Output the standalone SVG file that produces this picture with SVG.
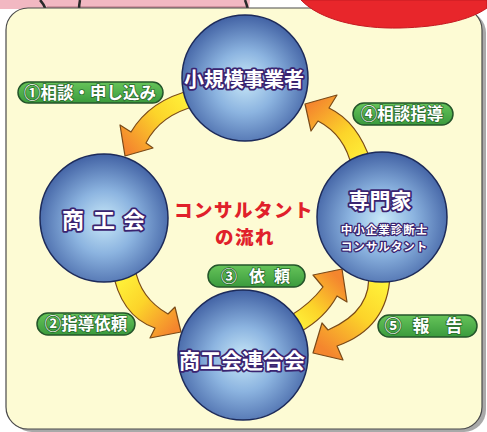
<svg xmlns="http://www.w3.org/2000/svg" width="487" height="432" viewBox="0 0 487 432">
<style>
.sph{fill:url(#sphere);stroke:#1c2a5a;stroke-width:1.5}
.nt{font-family:"Noto Sans CJK JP","Noto Sans",sans-serif;font-weight:700;fill:#ffffff;stroke:#3a2470;stroke-width:3.5;paint-order:stroke;stroke-linejoin:round;text-anchor:middle}
.pill{fill:url(#green);stroke:#24552a;stroke-width:1.5}
.lt{font-family:"Noto Sans CJK JP","Noto Sans",sans-serif;font-weight:700;fill:#ffffff;stroke:#2a6a2e;stroke-width:1.5;paint-order:stroke;text-anchor:middle;font-size:16px}
.arr{stroke:#7a4a18;stroke-width:1.2;stroke-linejoin:round}
.red{font-family:"Noto Sans CJK JP","Noto Sans",sans-serif;font-weight:900;fill:#e0202a;text-anchor:middle;font-size:18.5px;letter-spacing:1.5px}
</style>
<defs>
<radialGradient id="sphere" cx="50%" cy="55%" r="55%" fx="50%" fy="52%">
<stop offset="0" stop-color="#c8e8f8"/>
<stop offset="0.45" stop-color="#8cb4e0"/>
<stop offset="1" stop-color="#4262a4"/>
</radialGradient>
<linearGradient id="green" x1="0" y1="0" x2="0" y2="1">
<stop offset="0" stop-color="#66c45a"/>
<stop offset="1" stop-color="#3a9a3c"/>
</linearGradient>
<linearGradient id="g1" gradientUnits="userSpaceOnUse" x1="190" y1="98" x2="128" y2="150">
<stop offset="0" stop-color="#fff23a"/><stop offset="0.45" stop-color="#fcd42a"/><stop offset="1" stop-color="#f4862e"/>
</linearGradient>
<linearGradient id="g2" gradientUnits="userSpaceOnUse" x1="122" y1="275" x2="178" y2="325">
<stop offset="0" stop-color="#fff23a"/><stop offset="0.45" stop-color="#fcd42a"/><stop offset="1" stop-color="#f4862e"/>
</linearGradient>
<linearGradient id="g3" gradientUnits="userSpaceOnUse" x1="295" y1="325" x2="340" y2="280">
<stop offset="0" stop-color="#fff23a"/><stop offset="0.4" stop-color="#fcd42a"/><stop offset="1" stop-color="#f4862e"/>
</linearGradient>
<linearGradient id="g4" gradientUnits="userSpaceOnUse" x1="380" y1="280" x2="325" y2="350">
<stop offset="0" stop-color="#fff23a"/><stop offset="0.45" stop-color="#fcd42a"/><stop offset="1" stop-color="#f4862e"/>
</linearGradient>
<linearGradient id="g5" gradientUnits="userSpaceOnUse" x1="362" y1="165" x2="310" y2="105">
<stop offset="0" stop-color="#fff23a"/><stop offset="0.45" stop-color="#fcd42a"/><stop offset="1" stop-color="#f4862e"/>
</linearGradient>
</defs>

<!-- decorative top shapes -->
<path d="M0,0 L250,0 L249,9 L0,9 Z" fill="#f2b8c2"/>
<path d="M47,7 L246,7" stroke="#c98a96" stroke-width="1.5"/>
<path d="M40,0 Q44,4 46,10" fill="none" stroke="#2a2a2a" stroke-width="2.5"/>
<path d="M80,0 Q79,5 79,10" fill="none" stroke="#2a2a2a" stroke-width="2.5"/>
<path d="M245,0 Q247,5 248,10" fill="none" stroke="#2a2a2a" stroke-width="2.5"/>

<!-- background panel -->
<rect x="10" y="11" width="476" height="421" rx="22" fill="#a9a9a9"/>
<rect x="6" y="8" width="476" height="421" rx="22" fill="#fdfbd4" stroke="#4a4a4a" stroke-width="1.2"/>

<path d="M301,0 C320,20 360,29 400,28 C440,27 470,20 487,8 L487,0 Z" fill="#e8262b" stroke="#c41a22" stroke-width="1"/>

<g id="connectors">
<path class="arr" fill="url(#g1)" d="M192,90 Q150,100 131,132 L120,125 L125,156 L153,148 L146,143 Q160,115 196,106 Z"/>
<path class="arr" fill="url(#g2)" d="M112,268 Q120,316 155,328 L150,338 L181,332 L175,307 L168,314 Q140,298 135,268 Z"/>
<path class="arr" fill="url(#g3)" d="M290,316 Q310,304 323,287 L313,275 L342,269 L347,302 L337,296 Q325,318 300,332 Z"/>
<path class="arr" fill="url(#g4)" d="M368,270 Q374,310 328,330 L322,323 L313,353 L343,360 L337,346 Q388,328 390,275 Z"/>
<path class="arr" fill="url(#g5)" d="M352,168 Q345,135 318,121 L311,131 L305,104 L337,95 L329,108 Q358,122 371,162 Z"/>
</g>

<g id="node-shoukibo">
<circle class="sph" cx="245" cy="78" r="63"/>
<text class="nt" x="244" y="87" font-size="20">小規模事業者</text>
</g>

<g id="node-shoukoukai">
<circle class="sph" cx="104" cy="218" r="64"/>
<text class="nt" font-size="22" y="228"><tspan x="73">商</tspan><tspan x="104">工</tspan><tspan x="134">会</tspan></text>
</g>

<g id="node-senmonka">
<circle class="sph" cx="382" cy="217" r="65"/>
<text class="nt" x="380" y="208" font-size="21">専門家</text>
<text class="nt" x="384.5" y="234" font-size="11.5" style="stroke-width:2.5;letter-spacing:1px">中小企業診断士</text>
<text class="nt" x="384.5" y="251" font-size="11.5" style="stroke-width:2.5;letter-spacing:1px">コンサルタント</text>
</g>

<g id="node-rengoukai">
<circle class="sph" cx="243" cy="355" r="65"/>
<text class="nt" x="242" y="368" font-size="21">商工会連合会</text>
</g>

<g id="title">
<text class="red" x="244" y="217">コンサルタント</text>
<text class="red" x="245" y="244">の流れ</text>
</g>

<g id="label1">
<rect class="pill" x="18" y="82" width="145" height="21" rx="10.5"/>
<text class="lt" x="90" y="98.5" style="font-size:16.5px">①相談・申し込み</text>
</g>
<g id="label4">
<rect class="pill" x="353" y="103" width="100" height="22" rx="11"/>
<text class="lt" x="402" y="120" style="font-size:16.5px">④相談指導</text>
</g>
<g id="label3">
<rect class="pill" x="208" y="265" width="97" height="22" rx="11"/>
<text class="lt" y="282"><tspan x="229">③</tspan><tspan x="257">依</tspan><tspan x="282">頼</tspan></text>
</g>
<g id="label2">
<rect class="pill" x="37" y="313" width="98" height="22" rx="11"/>
<text class="lt" x="86" y="330" style="font-size:16.5px">②指導依頼</text>
</g>
<g id="label5">
<rect class="pill" x="378" y="315" width="99" height="22" rx="11"/>
<text class="lt" y="332" style="font-size:17px"><tspan x="393">⑤</tspan><tspan x="421">報</tspan><tspan x="454">告</tspan></text>
</g>
</svg>
